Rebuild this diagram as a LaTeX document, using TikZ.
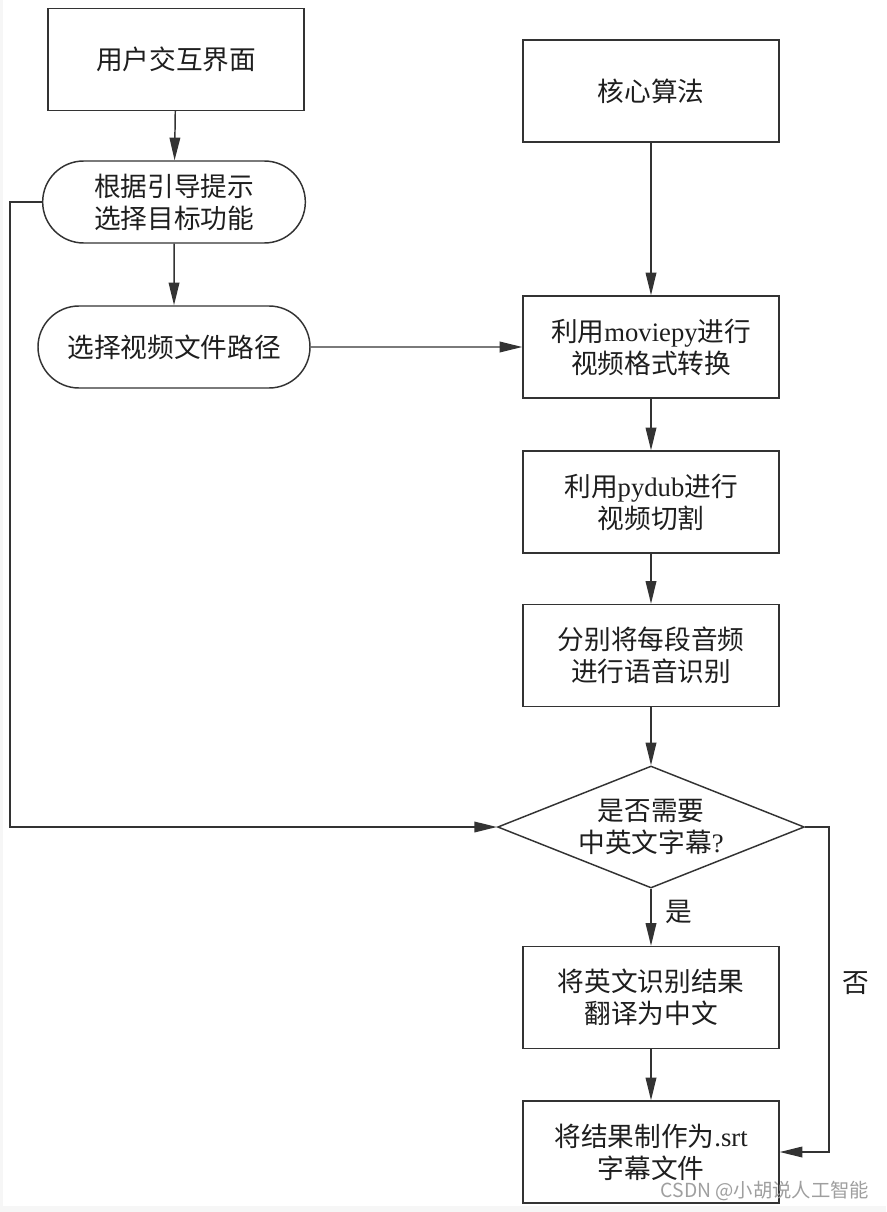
\documentclass[tikz,border=0pt]{standalone}
\usepackage{fontspec}
\setmainfont{Liberation Serif}
\newfontfamily\cjk{Noto Sans CJK SC}
\usetikzlibrary{shapes.geometric,shapes.misc,arrows.meta}
\definecolor{ln}{HTML}{333333}
\definecolor{tx}{HTML}{1E1E1E}
\tikzset{
  base/.style={draw=ln, line width=1.1pt, text=tx, font=\cjk\fontsize{20}{24}\selectfont, align=center, inner sep=0pt},
  boxnode/.style={base, rectangle, minimum width=192pt, minimum height=76.5pt},
  ovalnode/.style={base, rounded rectangle, rounded rectangle arc length=180, minimum height=61.5pt},
  decnode/.style={base, diamond, aspect=2.51, minimum width=230pt, minimum height=91.5pt},
  lbl/.style={text=tx, font=\cjk\fontsize{20}{24}\selectfont, inner sep=0pt},
  arr/.style={draw=ln, line width=1.1pt, -{Triangle[length=17pt,width=8pt]}}
}
\begin{document}
\begin{tikzpicture}[x=0.75pt,y=-0.75pt]
\path[use as bounding box, fill=white] (0,0) rectangle (886,1212);
\fill[gray!7] (0,1206) rectangle (886,1212);
\fill[gray!7] (0,0) rectangle (3,1212);

\node[boxnode] (ui) at (176,59.5) {用户交互界面};
\node[boxnode] (core) at (651,91) {核心算法};
\node[ovalnode, minimum width=197pt] (guide) at (174,202) {根据引导提示\\选择目标功能};
\node[ovalnode, minimum width=204pt] (path) at (174,347) {选择视频文件路径};
\node[boxnode] (mp) at (651,347) {利用\textrm{moviepy}进行\\视频格式转换};
\node[boxnode] (pd) at (651,502) {利用\textrm{pydub}进行\\视频切割};
\node[boxnode] (asr) at (651,655.5) {分别将每段音频\\进行语音识别};
\node[decnode] (dec) at (651,827) {是否需要\\中英文字幕\textrm{?}};
\node[boxnode] (tr) at (651,997.5) {将英文识别结果\\翻译为中文};
\node[boxnode] (srt) at (651,1152) {将结果制作为\textrm{.srt}\\字幕文件};

\node[lbl] (yes) at (679,912) {是};
\node[lbl] (no) at (856,983) {否};

\coordinate (lp) at (10,202);
\coordinate (np) at (829,827);

\draw[arr] (ui) -- (guide);
\draw[arr] (guide) -- (path);
\draw[arr] (path) -- (mp);
\draw[arr] (core) -- (mp);
\draw[arr] (mp) -- (pd);
\draw[arr] (pd) -- (asr);
\draw[arr] (asr) -- (dec);
\draw[arr] (dec) -- (tr);
\draw[arr] (tr) -- (srt);
\draw[arr] (guide.west) -- (lp) |- (dec.west);
\draw[arr] (dec.east) -- (np) |- (srt.east);

\node[text=gray!75, font=\cjk\fontsize{14.5}{16}\selectfont, inner sep=0pt] (wm) at (765,1191) {CSDN @小胡说人工智能};
\end{tikzpicture}
\end{document}
